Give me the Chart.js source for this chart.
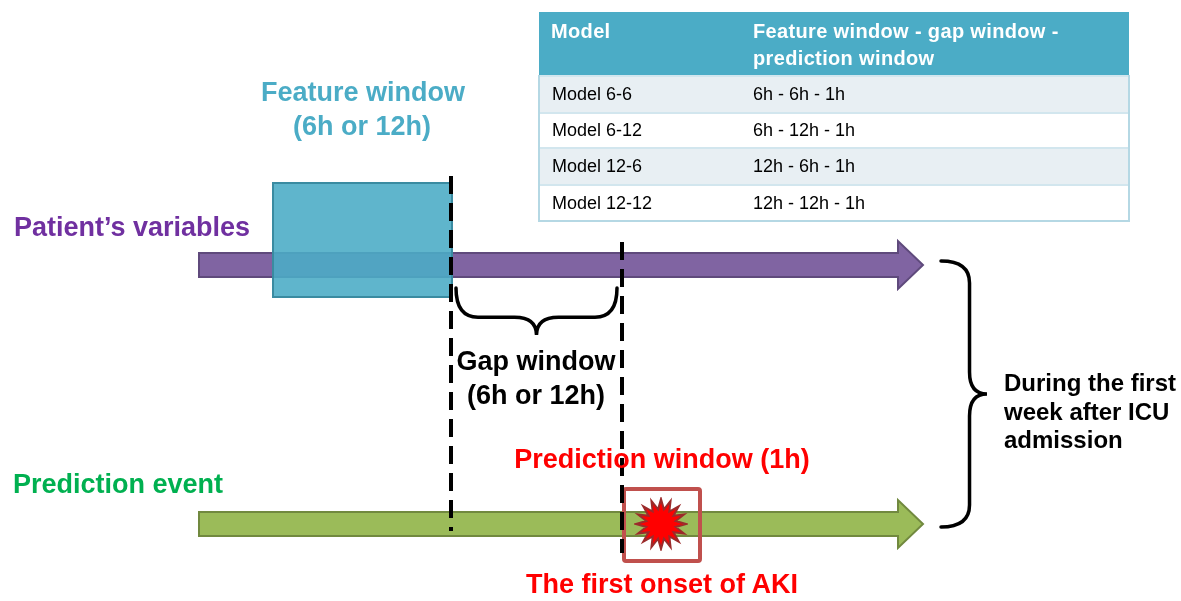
<!DOCTYPE html>
<html>
<head>
<meta charset="utf-8">
<script src="https://cdn.jsdelivr.net/npm/chart.js@4.4.1/dist/chart.umd.min.js"></script>
<style>
  html, body { margin: 0; padding: 0; background: #fff; }
  #wrap { position: relative; width: 1181px; height: 601px; overflow: hidden; font-family: "Liberation Sans", Arial, sans-serif; }
  #diagram { position: absolute; left: 0; top: 0; }
  .lbl { position: absolute; font-weight: bold; font-size: 27px; white-space: nowrap; line-height: 1.15; }
  .c { transform: translate(-50%, -50%); text-align: center; }
  .l { transform: translateY(-50%); }
  #models { position: absolute; left: 538px; top: 12px; width: 592px; table-layout: fixed; border-collapse: collapse; font-size: 18px; color: #000; }
  #models th { background: #4bacc6; color: #fff; font-weight: bold; font-size: 20px; letter-spacing: 0.35px; text-align: left; vertical-align: top; padding: 6px 0 0 12px; height: 64px; line-height: 27px; box-sizing: border-box; }
  #models td { padding: 0 0 0 12px; border-top: 2px solid #d2e6ee; box-sizing: border-box; }
  #models tr.odd td { background: #e8eff3; }
  #models td:first-child { border-left: 2px solid #b5d8e4; }
  #models td:last-child { border-right: 2px solid #b5d8e4; }
  #models tr:last-child td { border-bottom: 2px solid #b5d8e4; }
</style>
</head>
<body>
<div id="wrap">
  <canvas id="diagram" width="1181" height="601"></canvas>
  <table id="models"><colgroup><col style="width:202px"><col></colgroup><thead></thead><tbody></tbody></table>
  <div class="lbl c" style="left:363px; top:93px; color:#4bacc6;">Feature window</div>
  <div class="lbl c" style="left:362px; top:127px; color:#4bacc6;">(6h or 12h)</div>
  <div class="lbl l" style="left:14px; top:228px; color:#7030a0;">Patient’s variables</div>
  <div class="lbl c" style="left:536px; top:362px; color:#000;">Gap window</div>
  <div class="lbl c" style="left:536px; top:396px; color:#000;">(6h or 12h)</div>
  <div class="lbl c" style="left:662px; top:460px; color:#ff0000;">Prediction window (1h)</div>
  <div class="lbl l" style="left:13px; top:485px; color:#00b050;">Prediction event</div>
  <div class="lbl c" style="left:662px; top:585px; color:#ff0000;">The first onset of AKI</div>
  <div class="lbl" style="left:1004px; top:369px; color:#000; font-size:24px; line-height:28.5px;">During the first<br>week after ICU<br>admission</div>
</div>
<script>
// table contents
const modelNames = ['Model 6-6', 'Model 6-12', 'Model 12-6', 'Model 12-12'];
const featureHours = [6, 6, 12, 12];
const gapHours = [6, 12, 6, 12];
const predictionHours = [1, 1, 1, 1];
const tableHeader = ['Model', 'Feature window - gap window -', 'prediction window'];
const rowHeights = [37, 35, 37, 36];

// timeline (diagram units, x = time axis, y = row position)
const timelineRows = [265, 524];          // patient's variables, prediction event
const timelineColors = ['#8064a2', '#9bbb59'];
const timelineEdges = ['#5f4a7c', '#71893f'];
const timelineSpan = [199, 923];
const featureWindow = [273, 452];
const featureBand = [183, 297];
const gapWindow = [452, 622];
const predictionWindow = [622, 702];
const predictionBand = [487, 563];
const boundaryX = [451, 622];
const boundaryTop = [176, 242];
const boundaryBottom = [531, 553];
const akiOnset = [{ x: 661, y: 524 }];
const firstWeekSpan = [261, 527];

// build table
const thead = document.querySelector('#models thead');
thead.innerHTML = '<tr><th>' + tableHeader[0] + '</th><th>' + tableHeader[1] + '<br>' + tableHeader[2] + '</th></tr>';
const tbody = document.querySelector('#models tbody');
modelNames.forEach((name, i) => {
  const tr = document.createElement('tr');
  if (i % 2 === 0) tr.className = 'odd';
  tr.style.height = rowHeights[i] + 'px';
  tr.innerHTML = '<td>' + name + '</td><td>' + featureHours[i] + 'h - ' + gapHours[i] + 'h - ' + predictionHours[i] + 'h</td>';
  tbody.appendChild(tr);
});

// starburst used as point style for the AKI onset
const burst = document.createElement('canvas');
burst.width = 54;
burst.height = 54;
(function () {
  const b = burst.getContext('2d');
  const spikes = 16;
  b.beginPath();
  for (let k = 0; k < spikes * 2; k++) {
    const r = k % 2 === 0 ? 25 : 15;
    const a = (Math.PI * k) / spikes - Math.PI / 2;
    const px = 27 + r * Math.cos(a);
    const py = 27 + r * Math.sin(a);
    if (k === 0) b.moveTo(px, py); else b.lineTo(px, py);
  }
  b.closePath();
  b.fillStyle = '#ff0000';
  b.fill();
  b.lineWidth = 2;
  b.strokeStyle = '#9b2b2b';
  b.stroke();
})();

const drawArrow = (ctx, x0, x1, yc, fill, edge) => {
  const half = 12, headHalf = 24, headLen = 25;
  const xh = x1 - headLen;
  ctx.beginPath();
  ctx.moveTo(x0, yc - half);
  ctx.lineTo(xh, yc - half);
  ctx.lineTo(xh, yc - headHalf);
  ctx.lineTo(x1, yc);
  ctx.lineTo(xh, yc + headHalf);
  ctx.lineTo(xh, yc + half);
  ctx.lineTo(x0, yc + half);
  ctx.closePath();
  ctx.fillStyle = fill;
  ctx.fill();
  ctx.lineWidth = 2;
  ctx.strokeStyle = edge;
  ctx.stroke();
};

// curly brace along a segment, pointing to its side
const drawBrace = (ctx, a0, a1, base, depth, vertical) => {
  const mid = (a0 + a1) / 2;
  const r = Math.min(22, (a1 - a0) / 6);
  const d1 = base + depth * 0.62;
  const tip = base + depth;
  const P = (u, v) => vertical ? [v, u] : [u, v];
  ctx.beginPath();
  ctx.moveTo(...P(a0, base));
  ctx.quadraticCurveTo(...P(a0, d1), ...P(a0 + r, d1));
  ctx.lineTo(...P(mid - r, d1));
  ctx.quadraticCurveTo(...P(mid, d1), ...P(mid, tip));
  ctx.quadraticCurveTo(...P(mid, d1), ...P(mid + r, d1));
  ctx.lineTo(...P(a1 - r, d1));
  ctx.quadraticCurveTo(...P(a1, d1), ...P(a1, base));
  ctx.lineWidth = 3.5;
  ctx.strokeStyle = '#000';
  ctx.lineCap = 'round';
  ctx.stroke();
  ctx.lineCap = 'butt';
};

const diagramPlugin = {
  id: 'diagramShapes',
  beforeDatasetsDraw(chart) {
    const { ctx, scales: { x, y } } = chart;
    ctx.save();
    timelineRows.forEach((row, i) => {
      drawArrow(ctx, x.getPixelForValue(timelineSpan[0]), x.getPixelForValue(timelineSpan[1]),
        y.getPixelForValue(row), timelineColors[i], timelineEdges[i]);
    });
    // feature window box
    const fx0 = x.getPixelForValue(featureWindow[0]), fx1 = x.getPixelForValue(featureWindow[1]);
    const fy0 = y.getPixelForValue(featureBand[0]), fy1 = y.getPixelForValue(featureBand[1]);
    ctx.fillStyle = 'rgba(75,172,198,0.89)';
    ctx.fillRect(fx0, fy0, fx1 - fx0, fy1 - fy0);
    ctx.lineWidth = 2;
    ctx.strokeStyle = '#3a8ba1';
    ctx.strokeRect(fx0, fy0, fx1 - fx0, fy1 - fy0);
    // prediction window box
    const px0 = x.getPixelForValue(predictionWindow[0]), px1 = x.getPixelForValue(predictionWindow[1]);
    const py0 = y.getPixelForValue(predictionBand[0]), py1 = y.getPixelForValue(predictionBand[1]);
    ctx.lineWidth = 4;
    ctx.strokeStyle = '#c0504d';
    ctx.beginPath();
    ctx.roundRect(px0 + 2, py0 + 2, px1 - px0 - 4, py1 - py0 - 4, 2);
    ctx.stroke();
    // gap window brace (pointing down)
    drawBrace(ctx, x.getPixelForValue(gapWindow[0] + 4), x.getPixelForValue(gapWindow[1] - 5),
      y.getPixelForValue(288), 47, false);
    // first week brace (pointing right)
    drawBrace(ctx, y.getPixelForValue(firstWeekSpan[0]), y.getPixelForValue(firstWeekSpan[1]),
      x.getPixelForValue(941), 46, true);
    ctx.restore();
  }
};

const dashed = (i) => ({
  data: [{ x: boundaryX[i], y: boundaryTop[i] }, { x: boundaryX[i], y: boundaryBottom[i] }],
  showLine: true,
  borderColor: '#000',
  borderWidth: 4,
  borderDash: [18, 9],
  pointRadius: 0
});

const ctx = document.getElementById('diagram');
new Chart(ctx, {
  type: 'scatter',
  data: {
    datasets: [
      dashed(0),
      dashed(1),
      {
        data: akiOnset,
        pointStyle: burst,
        pointRadius: 24,
        showLine: false
      }
    ]
  },
  options: {
    responsive: false,
    animation: false,
    layout: { padding: 0, autoPadding: false },
    scales: {
      x: { type: 'linear', min: 0, max: 1181, display: false },
      y: { type: 'linear', min: 0, max: 601, reverse: true, display: false }
    },
    plugins: {
      legend: { display: false },
      tooltip: { enabled: false }
    },
    events: []
  },
  plugins: [diagramPlugin]
});
</script>
</body>
</html>
